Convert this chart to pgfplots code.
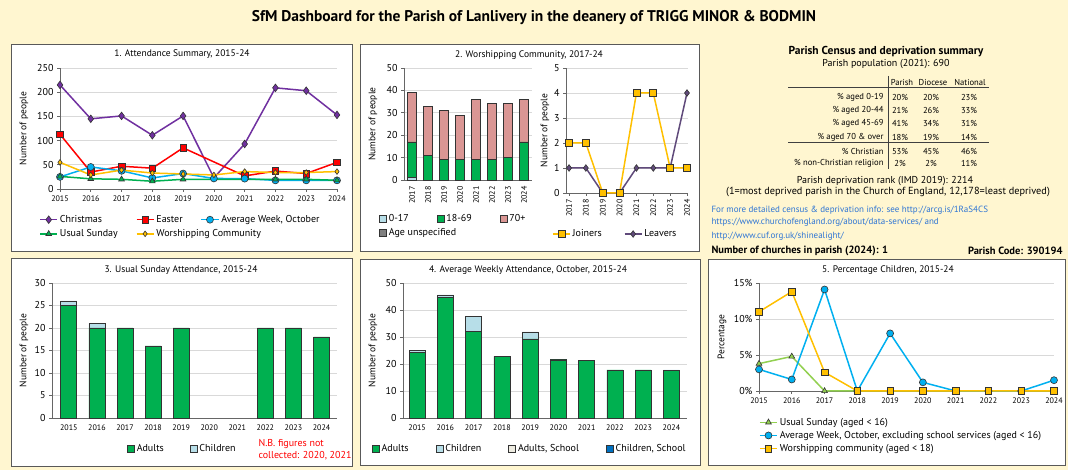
\documentclass[border=0pt]{standalone}
\usepackage{pgfplots}
\pgfplotsset{compat=1.18}
\usepackage{fontspec}
\setmainfont{PT Sans}
\definecolor{bg}{RGB}{255,246,208}
\definecolor{cPur}{HTML}{7030A0}
\definecolor{cRed}{HTML}{FF0000}
\definecolor{cBlue}{HTML}{00B0F0}
\definecolor{cGreen}{HTML}{00B050}
\definecolor{cGold}{HTML}{FFC000}
\definecolor{cLGreen}{HTML}{92D050}
\definecolor{cLeav}{HTML}{604A7B}
\definecolor{cPink}{HTML}{DA9694}
\definecolor{cLBlue}{HTML}{B7DEE8}
\definecolor{cIvory}{HTML}{EEECE1}
\definecolor{cDBlue}{HTML}{0070C0}
\definecolor{cLink}{HTML}{2E75D4}
\pgfplotsset{
  dash/.style={
    scale only axis, anchor=south west, clip=false,
    axis x line*=bottom, axis y line*=left,
    axis line style={-, draw=black!60, line width=0.8pt},
    ymajorgrids, grid style={draw=black!15, line width=0.7pt},
    tick style={draw=black!60, line width=0.6pt},
    tick align=outside, major tick length=3pt,
    /pgf/number format/assume math mode=true,
    /pgf/number format/1000 sep={},
    x tick label style={font=\fontsize{8}{9}\selectfont},
    y tick label style={font=\fontsize{10}{11}\selectfont},
    label style={font=\fontsize{9.5}{11}\selectfont},
    legend cell align=left,
    legend style={draw=none, fill=none, font=\fontsize{10}{11}\selectfont, inner sep=0pt, row sep=1.5pt},
  },
  ylab/.style={ylabel style={at={(axis description cs:#1,0.5)}, anchor=center}},
  lsep/.style={legend style={/tikz/every even column/.append style={column sep=#1}}},
  barleg/.style={legend image code/.code={\draw[##1,/tikz/.cd,line width=0.6pt,draw=black!80] (0pt,-3.5pt) rectangle (7pt,3.5pt);}},
  mk/.style={mark options={solid, draw=black!80, fill=#1, line width=0.6pt}},
  bars/.style={fill=#1, draw=black!80, line width=0.7pt},
}
\begin{document}
\begin{tikzpicture}[x=1pt,y=1pt]
\fill[bg] (0,0) rectangle (1068,470);
% panel frames
\tikzset{frame/.style={fill=white, draw=black!65, line width=1pt}}
\filldraw[frame] (11,218) rectangle (352,425);
\filldraw[frame] (360,218) rectangle (699,425);
\filldraw[frame] (11,3) rectangle (352,211);
\filldraw[frame] (360,4) rectangle (700,210);
\filldraw[frame] (708,4) rectangle (1065,210);
% main title
\node[font=\bfseries\fontsize{15.5}{18}\selectfont] at (534,452) {SfM Dashboard for the Parish of Lanlivery in the deanery of TRIGG MINOR \& BODMIN};
% panel titles
\node[font=\fontsize{9.5}{11}\selectfont] at (182,416) {1. Attendance Summary, 2015-24};
\node[font=\fontsize{9.5}{11}\selectfont] at (529,415) {2. Worshipping Community, 2017-24};
\node[font=\fontsize{9.5}{11}\selectfont] at (181,200) {3. Usual Sunday Attendance, 2015-24};
\node[font=\fontsize{9.5}{11}\selectfont] at (528,200) {4. Average Weekly Attendance, October, 2015-24};
\node[font=\fontsize{9.5}{11}\selectfont] at (888,200) {5. Percentage Children, 2015-24};

% ---------- Panel 1 ----------
\begin{axis}[dash, at={(60pt,281pt)}, width=277pt, height=121pt,
  xmin=2015, xmax=2024, ymin=0, ymax=250, ytick={0,50,...,250}, xtick={2015,...,2024},
  ylabel={Number of people}, ylab=-0.13,
  legend columns=3, lsep=16pt, legend style={at={(-0.075,-0.2)}, anchor=north west}]
\addplot[cPur, line width=1.5pt, mark=diamond*, mark size=3.8pt, mk=cPur] coordinates {(2015,215)(2016,145)(2017,151)(2018,111)(2019,151)(2020,23)(2021,93)(2022,209)(2023,203)(2024,153)};
\addlegendentry{Christmas}
\addplot[cRed, line width=1.5pt, mark=square*, mark size=3.3pt, mk=cRed] coordinates {(2015,113)(2016,35)(2017,47)(2018,43)(2019,85)(2021,27)(2022,37)(2023,32)(2024,55)};
\addlegendentry{Easter}
\addplot[cBlue, line width=1.5pt, mark=*, mark size=3.5pt, mk=cBlue] coordinates {(2015,25)(2016,45.5)(2017,37.5)(2018,22.8)(2019,31.9)(2020,21.8)(2021,21.4)(2022,17.8)(2023,17.8)(2024,17.8)};
\addlegendentry{Average Week, October}
\addplot[cGreen, line width=1.5pt, mark=triangle*, mark size=3.3pt, mk=cGreen] coordinates {(2015,26)(2016,21)(2017,20)(2018,16)(2019,20)(2022,20)(2023,20)(2024,18)};
\addlegendentry{Usual Sunday}
\addplot[cGold, line width=1.5pt, mark=diamond*, mark size=2.8pt, mk=cGold] coordinates {(2015,55)(2016,29)(2017,39)(2018,33)(2019,31)(2020,29)(2021,36)(2022,34)(2023,34)(2024,36)};
\addlegendentry{\makebox[0pt][l]{Worshipping Community}}
\end{axis}

% ---------- Panel 2 left ----------
\begin{axis}[dash, at={(404pt,290pt)}, width=128pt, height=112pt,
  ybar stacked, bar width=9pt,
  xmin=2016.5, xmax=2024.5, ymin=0, ymax=50, ytick={0,10,...,50}, xtick={2017,...,2024},
  x tick label style={rotate=90, anchor=east}, xtick style={draw=none},
  ylabel={Number of people}, ylab=-0.242,
  barleg, legend columns=3, lsep=26pt, legend style={at={(-0.195,-0.286)}, anchor=north west}]
\addplot[bars=cLBlue] coordinates {(2017,1)(2018,0)(2019,0)(2020,0)(2021,0)(2022,0)(2023,0)(2024,0)};
\addlegendentry{0-17}
\addplot[bars=cGreen] coordinates {(2017,16)(2018,11)(2019,9)(2020,9)(2021,9)(2022,9)(2023,10)(2024,17)};
\addlegendentry{18-69}
\addplot[bars=cPink] coordinates {(2017,22)(2018,22)(2019,22)(2020,20)(2021,27)(2022,25)(2023,24)(2024,19)};
\addlegendentry{70+}
\addlegendimage{fill=gray}
\addlegendentry{\makebox[0pt][l]{Age unspecified}}
\end{axis}

% ---------- Panel 2 right ----------
\begin{axis}[dash, at={(566pt,277pt)}, width=122pt, height=125pt,
  xmin=2016.82, xmax=2024.06, ymin=0, ymax=5, ytick={0,1,...,5}, xtick={2017,...,2024},
  x tick label style={rotate=90, anchor=east},
  ylabel={Number of people}, ylab=-0.172,
  legend columns=2, lsep=20pt, legend style={at={(-0.115,-0.328)}, anchor=west}]
\addplot[cLeav, line width=1.5pt, mark=diamond*, mark size=3.3pt, mk=cLeav, forget plot] coordinates {(2017,1)(2018,1)(2019,0)(2020,0)(2021,1)(2022,1)(2023,1)(2024,4)};
\addplot[cGold, line width=1.5pt, mark=square*, mark size=3.5pt, mk=cGold] coordinates {(2017,2)(2018,2)(2019,0)(2020,0)(2021,4)(2022,4)(2023,1)(2024,1)};
\addlegendentry{Joiners}
\addlegendimage{cLeav, line width=1.5pt, mark=diamond*, mark size=3.3pt, mk=cLeav}
\addlegendentry{Leavers}
\end{axis}

% ---------- Panel 3 ----------
\begin{axis}[dash, at={(52pt,52pt)}, width=285pt, height=135pt,
  ybar stacked, bar width=16pt,
  xmin=2014.4, xmax=2024.55, ymin=0, ymax=30, ytick={0,5,...,30}, xtick={2015,...,2024},
  xtick style={draw=none},
  ylabel={Number of people}, ylab=-0.098,
  barleg, legend columns=2, lsep=24pt, legend style={at={(0.263,-0.23)}, anchor=west}]
\addplot[bars=cGreen] coordinates {(2015,25)(2016,20)(2017,20)(2018,16)(2019,20)(2022,20)(2023,20)(2024,18)};
\addlegendentry{Adults}
\addplot[bars=cLBlue] coordinates {(2015,1)(2016,1)(2017,0)(2018,0)(2019,0)(2022,0)(2023,0)(2024,0)};
\addlegendentry{Children}
\end{axis}
\node[anchor=west, text=red, font=\fontsize{10}{11}\selectfont] at (255,26) {N.B. figures not};
\node[anchor=west, text=red, font=\fontsize{10}{11}\selectfont] at (255,14) {collected: 2020, 2021};

% ---------- Panel 4 ----------
\begin{axis}[dash, at={(403pt,52pt)}, width=284pt, height=135pt,
  ybar stacked, bar width=16pt,
  xmin=2014.5, xmax=2024.55, ymin=0, ymax=50, ytick={0,10,...,50}, xtick={2015,...,2024},
  xtick style={draw=none},
  ylabel={Number of people}, ylab=-0.106,
  barleg, legend columns=4, lsep=25pt, legend style={at={(-0.11,-0.23)}, anchor=west}]
\addplot[bars=cGreen] coordinates {(2015,24.2)(2016,44.7)(2017,32.2)(2018,22.8)(2019,29.3)(2020,21.5)(2021,21.4)(2022,17.8)(2023,17.8)(2024,17.5)};
\addlegendentry{Adults}
\addplot[bars=cLBlue] coordinates {(2015,0.8)(2016,0.9)(2017,5.5)(2018,0)(2019,2.6)(2020,0.3)(2021,0)(2022,0)(2023,0)(2024,0.3)};
\addlegendentry{Children}
\addlegendimage{fill=cIvory}
\addlegendentry{Adults, School}
\addlegendimage{fill=cDBlue}
\addlegendentry{Children, School}
\end{axis}

% ---------- Panel 5 ----------
\begin{axis}[dash, at={(759pt,79pt)}, width=295pt, height=108pt,
  xmin=2015, xmax=2024, ymin=0, ymax=15, ytick={0,5,10,15}, xtick={2015,...,2024},
  yticklabel={\pgfmathprintnumber{\tick}\%},
  ylabel={Percentage}, ylab=-0.125,
  legend columns=1, legend style={at={(0.0,-0.23)}, anchor=north west, row sep=0.5pt}]
\addplot[cLGreen, line width=1.5pt, mark=triangle*, mark size=3.3pt, mk=cLGreen] coordinates {(2015,3.8)(2016,4.8)(2017,0)(2018,0)(2019,0)(2020,0)(2021,0)(2022,0)(2023,0)(2024,0)};
\addlegendentry{Usual Sunday (aged < 16)}
\addplot[cBlue, line width=1.5pt, mark=*, mark size=3.5pt, mk=cBlue] coordinates {(2015,3.0)(2016,1.6)(2017,14.1)(2018,0)(2019,8.0)(2020,1.2)(2021,0)(2022,0)(2023,0)(2024,1.5)};
\addlegendentry{Average Week, October, excluding school services (aged < 16)}
\addplot[cGold, line width=1.5pt, mark=square*, mark size=3.3pt, mk=cGold] coordinates {(2015,11.0)(2016,13.8)(2017,2.6)(2018,0)(2019,0)(2020,0)(2021,0)(2022,0)(2023,0)(2024,0)};
\addlegendentry{Worshipping community (aged < 18)}
\end{axis}

% ---------- Census summary ----------
\node[font=\bfseries\fontsize{11.5}{13}\selectfont] at (886,418) {Parish Census and deprivation summary};
\node[font=\fontsize{10}{12}\selectfont] at (886,406) {Parish population (2021): 690};
\begin{scope}[font=\fontsize{8.6}{10}\selectfont]
\node at (902,387) {Parish};
\node at (933,387) {Diocese};
\node at (970,387) {National};
\foreach \y/\lab/\a/\b/\c in {373/\% aged 0-19/20\%/20\%/23\%, 360/\% aged 20-44/21\%/26\%/33\%, 347/\% aged 45-69/41\%/34\%/31\%, 333/\% aged 70 \& over/18\%/19\%/14\%, 319/\% Christian/53\%/45\%/46\%, 307/\% non-Christian religion/2\%/2\%/11\%}{
  \node[anchor=east] at (887,\y) {\lab};
  \node at (900,\y) {\a};
  \node at (931,\y) {\b};
  \node at (969,\y) {\c};
}
\end{scope}
\draw[black!75, line width=1pt] (788,382) -- (989,382);
\draw[black!75, line width=1pt] (788,327) -- (989,327);
\draw[black!75, line width=0.8pt] (888,394) -- (888,301);
\node[font=\fontsize{10}{12}\selectfont] at (885,289) {Parish deprivation rank (IMD 2019): 2214};
\node[font=\fontsize{10.3}{12}\selectfont] at (888,278) {(1=most deprived parish in the Church of England, 12,178=least deprived)};
\node[anchor=west, text=cLink, font=\fontsize{9}{10}\selectfont] at (708,260) {For more detailed census \& deprivation info: see http://arcg.is/1RaS4CS};
\node[anchor=west, text=cLink, font=\fontsize{9}{10}\selectfont] at (708,248) {https://www.churchofengland.org/about/data-services/ and};
\node[anchor=west, text=cLink, font=\fontsize{9}{10}\selectfont] at (708,234) {http://www.cuf.org.uk/shinealight/};
\node[anchor=west, font=\bfseries\fontsize{10.5}{12}\selectfont] at (708,219) {Number of churches in parish (2024): 1};
\node[anchor=east, font=\bfseries\fontsize{10.5}{12}\selectfont] at (1066,219) {Parish Code: 390194};

\pgfresetboundingbox
\path[use as bounding box] (0,0) rectangle (1068,470);
\end{tikzpicture}
\end{document}
